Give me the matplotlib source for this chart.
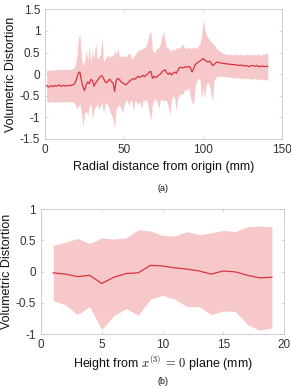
import numpy as np
import matplotlib
matplotlib.use('Agg')
from matplotlib import pyplot as plt

# (a) radial distance, 1..141 mm
radial_mm = list(range(1, 142))
radial_mean = [
    -0.26, -0.30, -0.28, -0.27, -0.29, -0.26, -0.28, -0.27, -0.25, -0.28,
    -0.27, -0.26, -0.28, -0.27, -0.26, -0.27, -0.25, -0.24, -0.20, -0.10,
    0.02, 0.05, -0.15, -0.30, -0.38, -0.25, -0.18, -0.22, -0.12, -0.15,
    -0.28, -0.20, -0.15, -0.10, -0.05, -0.04, -0.10, -0.18, -0.20, -0.15,
    -0.12, -0.18, -0.20, -0.40, -0.15, -0.10, -0.12, -0.18, -0.20, -0.22,
    -0.25, -0.22, -0.18, -0.15, -0.12, -0.10, -0.12, -0.08, -0.05, -0.08,
    -0.05, -0.03, -0.06, -0.02, 0.00, 0.05, 0.06, -0.10, -0.05, -0.08,
    -0.06, -0.02, 0.00, 0.05, 0.08, 0.10, 0.03, 0.00, 0.03, -0.02,
    0.02, 0.05, 0.02, 0.08, 0.15, 0.16, 0.14, 0.15, 0.17, 0.16,
    0.18, 0.15, 0.05, 0.12, 0.22, 0.25, 0.28, 0.30, 0.33, 0.36,
    0.33, 0.30, 0.28, 0.30, 0.27, 0.20, 0.22, 0.26, 0.28, 0.27,
    0.26, 0.25, 0.25, 0.24, 0.24, 0.23, 0.23, 0.22, 0.22, 0.22,
    0.21, 0.21, 0.20, 0.21, 0.20, 0.19, 0.20, 0.19, 0.17, 0.19,
    0.20, 0.19, 0.18, 0.20, 0.18, 0.17, 0.19, 0.18, 0.17, 0.18, 0.18,
]
radial_upper = [
    0.10, 0.08, 0.10, 0.09, 0.11, 0.09, 0.10, 0.11, 0.10, 0.12,
    0.10, 0.11, 0.12, 0.10, 0.12, 0.11, 0.12, 0.13, 0.18, 0.40,
    0.80, 0.93, 0.40, 0.20, 0.30, 0.55, 0.30, 0.65, 0.25, 0.55,
    0.35, 0.75, 0.35, 0.40, 0.45, 0.85, 0.30, 0.35, 0.40, 0.45,
    0.38, 0.45, 0.40, 0.55, 0.45, 0.60, 0.40, 0.42, 0.40, 0.45,
    0.40, 0.42, 0.50, 0.45, 0.35, 0.40, 0.45, 0.50, 0.55, 0.55,
    0.58, 0.60, 0.62, 0.65, 0.80, 0.95, 0.98, 0.55, 0.50, 0.55,
    0.60, 0.62, 0.70, 0.88, 0.98, 0.75, 0.62, 0.60, 0.55, 0.55,
    0.58, 0.55, 0.60, 0.62, 0.58, 0.65, 0.70, 0.62, 0.60, 0.60,
    0.62, 0.60, 0.60, 0.62, 0.60, 0.62, 0.65, 0.70, 0.85, 1.27,
    1.05, 0.92, 0.85, 0.80, 0.75, 0.72, 0.68, 0.62, 0.58, 0.55,
    0.52, 0.50, 0.48, 0.47, 0.46, 0.46, 0.45, 0.46, 0.44, 0.45,
    0.47, 0.44, 0.46, 0.45, 0.43, 0.46, 0.44, 0.47, 0.45, 0.44,
    0.46, 0.43, 0.47, 0.44, 0.46, 0.45, 0.43, 0.48, 0.46, 0.49, 0.47,
]
radial_lower = [
    -0.62, -0.66, -0.64, -0.65, -0.63, -0.66, -0.64, -0.65, -0.63, -0.65,
    -0.64, -0.63, -0.65, -0.64, -0.63, -0.65, -0.64, -0.66, -0.70, -0.80,
    -0.75, -0.70, -0.90, -1.22, -0.90, -0.85, -0.95, -0.75, -0.70, -1.05,
    -0.80, -0.75, -0.70, -0.80, -0.75, -0.65, -0.90, -0.70, -0.65, -0.75,
    -0.85, -0.95, -1.05, -1.25, -0.80, -0.75, -0.70, -0.80, -0.90, -0.70,
    -0.62, -0.60, -0.75, -0.60, -0.65, -0.85, -0.60, -0.65, -0.70, -0.62,
    -0.80, -0.60, -0.62, -0.58, -0.70, -0.90, -1.07, -0.70, -0.60, -0.58,
    -0.65, -0.80, -0.60, -0.58, -0.62, -0.60, -0.62, -0.75, -0.95, -0.60,
    -0.50, -0.55, -0.85, -0.55, -0.50, -0.45, -0.48, -0.40, -0.35, -0.38,
    -0.30, -0.55, -0.65, -0.70, -0.30, -0.15, -0.10, -0.12, -0.58, -0.30,
    -0.55, -0.25, -0.20, -0.25, -0.45, -0.62, -0.15, -0.08, -0.05, -0.06,
    -0.04, -0.06, -0.05, -0.07, -0.05, -0.08, -0.06, -0.09, -0.07, -0.10,
    -0.08, -0.10, -0.07, -0.11, -0.08, -0.12, -0.09, -0.11, -0.10, -0.13,
    -0.10, -0.12, -0.09, -0.13, -0.11, -0.14, -0.10, -0.13, -0.12, -0.15, -0.12,
]

# (b) height from plane, 1..19 mm
height_mm = list(range(1, 20))
height_mean = [-0.02, -0.04, -0.08, -0.06, -0.19, -0.09, -0.03, -0.02, 0.10, 0.09,
               0.06, 0.04, 0.01, -0.04, 0.01, -0.005, -0.06, -0.10, -0.09]
height_upper = [0.42, 0.47, 0.53, 0.45, 0.54, 0.52, 0.54, 0.67, 0.65, 0.58,
                0.57, 0.64, 0.59, 0.62, 0.66, 0.64, 0.72, 0.73, 0.72]
height_lower = [-0.46, -0.53, -0.69, -0.56, -0.93, -0.70, -0.59, -0.70, -0.44, -0.38,
                -0.44, -0.56, -0.56, -0.69, -0.63, -0.64, -0.85, -0.94, -0.90]

plt.rcParams['font.family'] = ['Liberation Sans', 'DejaVu Sans']
plt.rcParams['mathtext.fontset'] = 'cm'

fill_col = '#f6c8ca'
line_col = '#d8343e'
frame_col = '#c8c8c8'
text_col = '#333333'

fig = plt.figure(figsize=(2.91, 3.88), dpi=100)
ax1 = fig.add_axes([0.155, 0.642, 0.814, 0.334])
ax2 = fig.add_axes([0.141, 0.139, 0.835, 0.322])


def style(ax):
    for sp in ax.spines.values():
        sp.set_color(frame_col)
        sp.set_linewidth(0.6)
    ax.tick_params(direction='in', length=2.5, width=0.5, color=frame_col,
                   labelcolor=text_col, labelsize=8.5, top=True, right=True, pad=3.5)


ax1.fill_between(radial_mm, radial_lower, radial_upper, color=fill_col, lw=0)
ax1.plot(radial_mm, radial_mean, color=line_col, lw=0.9)
ax1.set_xlim(0, 150)
ax1.set_ylim(-1.5, 1.5)
ax1.set_xticks([0, 50, 100, 150])
ax1.set_yticks([-1.5, -1, -0.5, 0, 0.5, 1, 1.5])
ax1.set_yticklabels(['-1.5', '-1', '-0.5', '0', '0.5', '1', '1.5'])
style(ax1)
ax1.set_xlabel('Radial distance from origin (mm)', fontsize=9, color='#111111', labelpad=4)
ax1.set_ylabel('Volumetric Distortion', fontsize=9, color='#111111', labelpad=2)

ax2.fill_between(height_mm, height_lower, height_upper, color=fill_col, lw=0)
ax2.plot(height_mm, height_mean, color=line_col, lw=0.9)
ax2.set_xlim(0, 20)
ax2.set_ylim(-1, 1)
ax2.set_xticks([0, 5, 10, 15, 20])
ax2.set_yticks([-1, -0.5, 0, 0.5, 1])
ax2.set_yticklabels(['-1', '-0.5', '0', '0.5', '1'])
style(ax2)
ax2.set_xlabel('Height from $x^{(3)}\\,=\\,0$ plane (mm)', fontsize=9, color='#111111', labelpad=2)
ax2.set_ylabel('Volumetric Distortion', fontsize=9, color='#111111', labelpad=2)

fig.text(0.56, 0.515, '(a)', fontsize=6.5, color='#111111', ha='center', va='center')
fig.text(0.56, 0.016, '(b)', fontsize=6.5, color='#111111', ha='center', va='center')

fig.savefig('out.png', dpi=100)
